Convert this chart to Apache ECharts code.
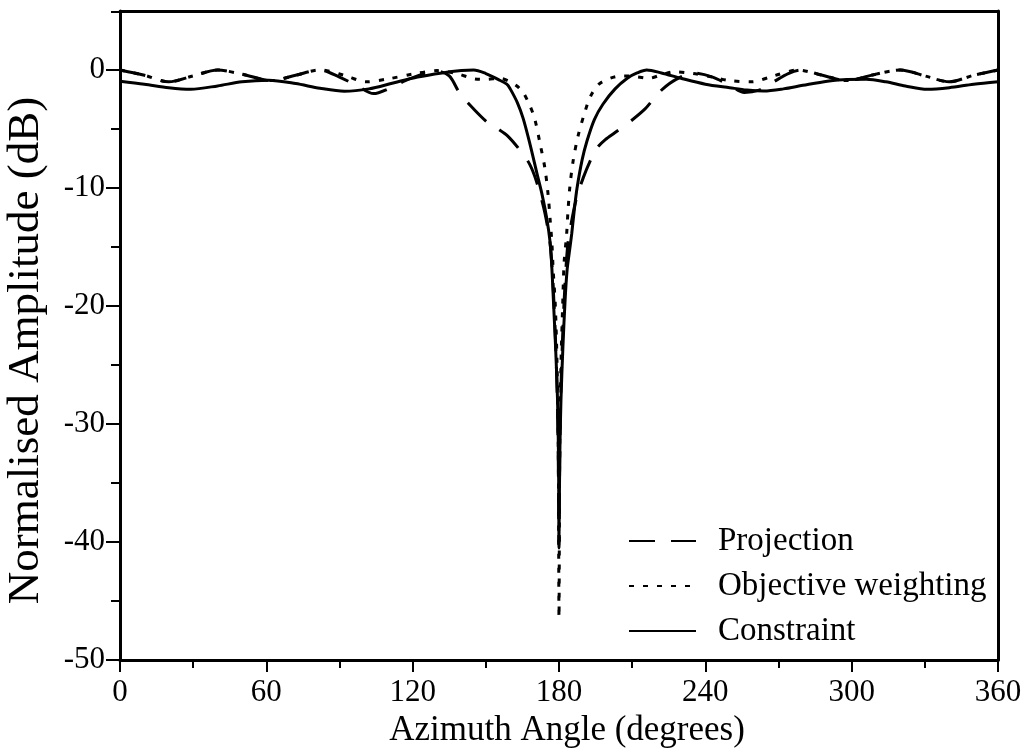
<!DOCTYPE html>
<html><head><meta charset="utf-8">
<script src="https://cdn.jsdelivr.net/npm/echarts@6/dist/echarts.min.js"></script>
<style>html,body{margin:0;padding:0;background:#fff}#c{width:1028px;height:749px}</style>
</head><body><div id="c"></div>
<script>
const seriesNames = ['Projection', 'Objective weighting', 'Constraint'];
const yMajorTicks = [-50, -40, -30, -20, -10, 0];
const yMinorTicks = [-45, -35, -25, -15, -5, 4.9];

const projAngles = [0,10,20,30,40,50,62,72,82,90,97,104,110,117,124,130,135,139.4,145,151,155,159,164,168,171,174.3,176.5,178,179.2,179.7,180,180.3,180.8,182,183.5,185,187,190,193,195.6,199,203,209,215.3,219,222.6,228,235,243,250,256,262,268,274,279,288,298,310,320,330,340,350,360];
const projValues = [0,-0.45,-1.0,-0.5,0,-0.35,-0.9,-0.45,0,-0.6,-1.3,-2.0,-1.6,-0.9,-0.35,-0.1,-0.5,-2.0,-3.3,-4.5,-5.0,-5.6,-6.8,-8.0,-9.6,-12.2,-15,-20,-27,-33,-40.5,-33,-27,-20,-15,-13,-11,-9.1,-7.6,-6.6,-5.9,-5.3,-4.4,-3.3,-2.4,-1.6,-0.8,-0.25,-0.6,-1.3,-1.9,-1.7,-1.0,-0.3,0,-0.45,-0.9,-0.35,0,-0.5,-1.0,-0.45,0];

const objAngles = [0,10,20,30,40,50,62,72,82,92,101,110,120,130,138,145.5,150,155.8,160,163,165.3,168,170,172.2,174.2,175.5,176.3,177.1,177.6,178.5,179.2,179.7,180,180.3,180.8,181.5,182.1,183.1,183.7,184.5,185.8,187.8,190.7,193,196.4,201,206,211,217,222,227.5,235,243,250,259,268,278,288,298,310,320,330,340,350,360];
const objValues = [0,-0.45,-1.0,-0.5,0,-0.35,-0.9,-0.45,0,-0.45,-1.0,-0.75,-0.35,-0.05,-0.3,-0.76,-0.8,-0.7,-1.0,-1.4,-1.9,-3.0,-4.1,-6.2,-8.3,-10.5,-12.5,-14.7,-16.9,-20,-25,-32,-46.4,-32,-25,-20,-16.3,-14,-11.9,-9.8,-7.7,-5.6,-3.5,-2.2,-1.2,-0.7,-0.5,-0.55,-0.7,-0.4,-0.15,-0.3,-0.6,-0.9,-1.0,-0.5,0,-0.45,-0.9,-0.35,0,-0.5,-1.0,-0.45,0];

const consAngles = [0,10,20,29,40,50,61,72,82,92,102,112,122,132,140,145,150,155,158.6,160,163,165.3,168,171,173,175,176.3,177,177.7,178.6,179.4,179.8,180,180.3,180.8,181.6,182.5,183.3,184.2,185.2,186.3,187.4,189.5,191.5,194.5,198,203,208,212,216,222,230,240,250,257,264,272,280,290,298,306,314,322,331,340,350,360];
const consValues = [-0.95,-1.2,-1.5,-1.63,-1.35,-1.0,-0.87,-1.15,-1.55,-1.8,-1.6,-1.1,-0.6,-0.25,-0.05,0,-0.3,-0.8,-1.2,-1.6,-2.8,-4.1,-6.2,-8.8,-10.5,-12.6,-14.5,-16.5,-19.5,-23.5,-28,-33,-40,-33,-28,-23.5,-19.5,-17,-15.5,-13.9,-11.8,-10,-7.6,-6.0,-4.2,-2.9,-1.6,-0.7,-0.25,0,-0.25,-0.7,-1.2,-1.5,-1.7,-1.78,-1.6,-1.3,-0.95,-0.8,-0.79,-1.0,-1.35,-1.64,-1.5,-1.2,-0.99];

const zip = (a, b) => a.map((v, i) => [v, b[i]]);
const FONT = 'Liberation Serif';
const black = '#000';

const chart = echarts.init(document.getElementById('c'), null, {renderer: 'canvas'});
chart.setOption({
  animation: false,
  backgroundColor: '#fff',
  grid: {left: 120, right: 30, top: 11, bottom: 89, containLabel: false, outerBoundsMode: 'none'},
  legend: {
    orient: 'vertical', left: 623, top: 518,
    itemWidth: 67, itemHeight: 14, itemGap: 9,
    data: seriesNames,
    itemStyle: {opacity: 0},
    textStyle: {fontFamily: FONT, fontSize: 33, color: black, lineHeight: 36, padding: [0, 0, 0, 17]}
  },
  xAxis: [{
    type: 'value', min: 0, max: 360, interval: 60, position: 'bottom',
    axisLine: {show: true, onZero: false, lineStyle: {color: black, width: 3}},
    axisTick: {show: true, length: 12, lineStyle: {color: black, width: 2}},
    minorTick: {show: true, splitNumber: 2, length: 8, lineStyle: {color: black, width: 2}},
    splitLine: {show: false},
    axisLabel: {fontFamily: FONT, fontSize: 31, color: black, margin: 17},
    name: 'Azimuth Angle (degrees)', nameLocation: 'middle', nameGap: 42,
    nameTextStyle: {fontFamily: FONT, fontSize: 35, color: black, padding: [0, 0, 0, 16]}
  }, {
    type: 'value', min: 0, max: 360, position: 'top',
    axisLine: {show: true, onZero: false, lineStyle: {color: black, width: 3}},
    axisTick: {show: false}, axisLabel: {show: false}, splitLine: {show: false}
  }],
  yAxis: [{
    type: 'value', min: -50, max: 5, interval: 10, position: 'left',
    axisLine: {show: true, onZero: false, lineStyle: {color: black, width: 3}},
    axisTick: {show: true, length: 14, customValues: yMajorTicks, lineStyle: {color: black, width: 2}},
    axisLabel: {fontFamily: FONT, fontSize: 31, color: black, margin: 15, customValues: yMajorTicks},
    splitLine: {show: false},
    name: 'Normalised Amplitude (dB)', nameLocation: 'middle', nameGap: 71,
    nameTextStyle: {fontFamily: FONT, fontSize: 45, color: black, padding: [0, 30, 0, 0]}
  }, {
    type: 'value', min: -50, max: 5, position: 'left',
    axisLine: {show: false, onZero: false},
    axisTick: {show: true, length: 9, customValues: yMinorTicks, lineStyle: {color: black, width: 2}},
    axisLabel: {show: false}, splitLine: {show: false}
  }, {
    type: 'value', min: -50, max: 5, position: 'right',
    axisLine: {show: true, onZero: false, lineStyle: {color: black, width: 3}},
    axisTick: {show: false}, axisLabel: {show: false}, splitLine: {show: false}
  }],
  series: [{
    name: seriesNames[0], type: 'line', xAxisIndex: 0, yAxisIndex: 0,
    data: zip(projAngles, projValues), symbol: 'none', smooth: 0.3,
    lineStyle: {color: black, width: 3, type: [26, 16]}, itemStyle: {color: black}
  }, {
    name: seriesNames[1], type: 'line', xAxisIndex: 0, yAxisIndex: 0,
    data: zip(objAngles, objValues), symbol: 'none', smooth: 0.3,
    lineStyle: {color: black, width: 3, type: [5, 9]}, itemStyle: {color: black}
  }, {
    name: seriesNames[2], type: 'line', xAxisIndex: 0, yAxisIndex: 0,
    data: zip(consAngles, consValues), symbol: 'none', smooth: 0.3,
    lineStyle: {color: black, width: 3, type: 'solid'}, itemStyle: {color: black}
  }]
});
</script></body></html>
